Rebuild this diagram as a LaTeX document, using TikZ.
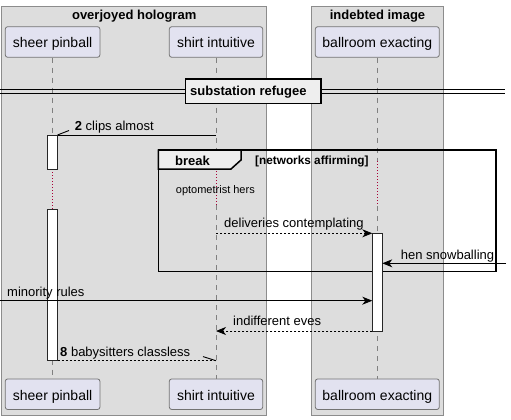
\documentclass[tikz,border=0pt]{standalone}
\usepackage{fontspec}
\setmainfont{Liberation Sans}
\usetikzlibrary{arrows.meta}
\definecolor{boxfill}{HTML}{DDDDDD}
\definecolor{partfill}{HTML}{E2E2F0}
\definecolor{delayc}{HTML}{A80036}
\definecolor{tabfill}{HTML}{EEEEEE}
\begin{document}
\begin{tikzpicture}[x=1pt,y=-1pt,
 grp/.style={draw=black!45, fill=boxfill, line width=0.8pt},
 part/.style={draw=black!55, fill=partfill, rounded corners=2.5pt, line width=0.8pt,
   font=\fontsize{14}{16}\selectfont, minimum height=30.6pt, inner sep=0pt,
   text height=13.6pt, text depth=3pt},
 partb/.style={part, text height=14.6pt},
 life/.style={draw=black!50, line width=0.7pt, dash pattern=on 5pt off 5pt},
 delay/.style={draw=delayc, line width=0.8pt, dash pattern=on 1pt off 2pt},
 act/.style={draw=black!85, fill=white, line width=0.8pt},
 msg/.style={draw=black, line width=0.9pt},
 ret/.style={msg, dash pattern=on 2pt off 2pt},
 tip/.style={-{Stealth[length=10pt,width=8pt,inset=3pt]}},
 lbl/.style={font=\fontsize{13}{15}\selectfont, inner sep=0pt, anchor=base west},
 ttl/.style={font=\fontsize{13}{15}\selectfont\bfseries, inner sep=0pt, anchor=base},
 frm/.style={draw=black, line width=1.5pt},
]
\useasboundingbox (0,0) rectangle (511,420);
% group boxes
\draw[grp] (1.7,6) rectangle (266.7,415);
\draw[grp] (311.7,6) rectangle (443.3,415);
\node[ttl] (t1) at (134.2,19.3) {overjoyed hologram};
\node[ttl] (t2) at (377.5,19.3) {indebted image};
% participants
\node[part, minimum width=94.7pt] (p1) at (52.6,42) {sheer pinball};
\node[part, minimum width=93.4pt] (p2) at (216,42) {shirt intuitive};
\node[part, minimum width=124pt] (p3) at (377.3,42) {ballroom exacting};
\node[partb, minimum width=94.7pt] (q1) at (52.6,394.2) {sheer pinball};
\node[partb, minimum width=93.4pt] (q2) at (216,394.2) {shirt intuitive};
\node[partb, minimum width=124pt] (q3) at (377.3,394.2) {ballroom exacting};
% lifelines
\coordinate (d1a) at (52.6,169.3); \coordinate (d1b) at (52.6,209.5);
\coordinate (d2a) at (216,162);   \coordinate (d2b) at (216,205);
\coordinate (d3a) at (377.3,161); \coordinate (d3b) at (377.3,206);
\draw[life] (p1.south) -- (d1a); \draw[delay] (d1a) -- (d1b); \draw[life] (d1b) -- (q1.north);
\draw[life] (p2.south) -- (d2a); \draw[delay] (d2a) -- (d2b); \draw[life] (d2b) -- (q2.north);
\draw[life] (p3.south) -- (d3a); \draw[delay] (d3a) -- (d3b); \draw[life] (d3b) -- (q3.north);
% divider
\draw[black, line width=0.8pt] (0,89.3) -- (505,89.3);
\draw[black, line width=0.8pt] (0,93.3) -- (505,93.3);
\draw[draw=black, line width=1.6pt, fill=tabfill] (185.3,78.7) rectangle (320.7,103.3);
\node[ttl, anchor=base west] (dv) at (190,95.3) {substation refugee};
% break frame
\draw[frm] (158.3,150) rectangle (496,271.7);
\draw[frm, fill=tabfill] (158.3,150) -- (241,150) -- (241,160) -- (231,169) -- (158.3,169) -- cycle;
\node[ttl] (brk) at (192.5,165) {break};
\node[font=\fontsize{11.8}{14}\selectfont\bfseries, inner sep=0pt, anchor=base west] (grd) at (255,164.3) {[networks affirming]};
\node[font=\fontsize{11}{13}\selectfont, inner sep=0pt, anchor=base west] (opt) at (175.7,193.3) {optometrist hers};
% activations
\draw[act] (47.7,135) rectangle (57.5,169.3);
\draw[act] (47.7,209.5) rectangle (57.5,360.7);
\draw[act] (372.3,233.3) rectangle (382.3,331);
% message end points
\coordinate (m1s) at (216,135);   \coordinate (m1e) at (57.5,135);   \coordinate (m1h) at (69,130.5);
\coordinate (m2s) at (216,233.3); \coordinate (m2e) at (372.3,233.3);
\coordinate (m3s) at (506,263.3); \coordinate (m3e) at (382.3,263.3);
\coordinate (m4s) at (0,300.7);   \coordinate (m4e) at (372.3,300.7);
\coordinate (m5s) at (372.3,331); \coordinate (m5e) at (216,331);
\coordinate (m6s) at (57.5,360.7); \coordinate (m6e) at (216,360.7); \coordinate (m6h) at (203,356.6);
% messages
\draw[msg] (m1s) -- (m1e); \draw[msg] (m1e) -- (m1h);
\node[lbl] (l1) at (74.7,130) {\textbf{2} clips almost};
\draw[ret, tip] (m2s) -- (m2e);
\node[lbl] (l2) at (224,227) {deliveries contemplating};
\draw[msg, tip] (m3s) -- (m3e);
\node[lbl] (l3) at (400.7,259) {hen snowballing};
\draw[msg, tip] (m4s) -- (m4e);
\node[lbl] (l4) at (7,296.5) {minority rules};
\draw[ret, tip] (m5s) -- (m5e);
\node[lbl] (l5) at (233,325.7) {indifferent eves};
\draw[ret] (m6s) -- (m6e); \draw[msg] (m6e) -- (m6h);
\node[lbl] (l6) at (60,356.5) {\textbf{8} babysitters classless};
\end{tikzpicture}
\end{document}
